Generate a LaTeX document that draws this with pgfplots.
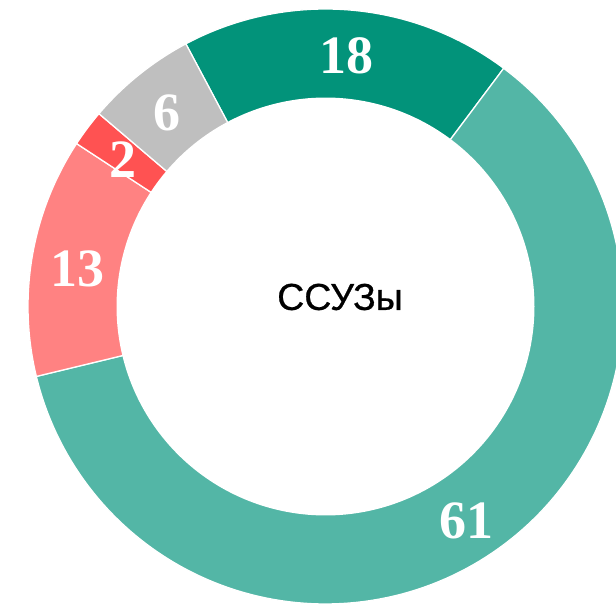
\documentclass[border=0pt]{standalone}
\usepackage{pgfplots}
\pgfplotsset{compat=1.18}
\usepackage{fontspec}
\setmainfont{Liberation Serif}
\newfontfamily\sansf[FakeBold=0.6]{Liberation Sans}
\definecolor{cA}{RGB}{2,147,122}
\definecolor{cB}{RGB}{83,182,166}
\definecolor{cC}{RGB}{255,130,130}
\definecolor{cD}{RGB}{255,82,82}
\definecolor{cE}{RGB}{191,191,191}
\newcommand\lab{\bfseries\fontsize{54}{60}\selectfont}
\def\cx{325.5}
\def\cy{-306.5}
\def\Ro{297.5}
\def\Ri{209}
\def\cum{118}
\newcommand\seg[2]{%
  \pgfmathsetmacro\sa{\cum}%
  \pgfmathsetmacro\sb{\cum-#1*3.6}%
  \edef\temp{\noexpand\addplot[fill=#2, draw=white, line width=1.3pt, domain=\sb:\sa, samples=150] ({\cx+\Ro*cos(x)},{\cy+\Ro*sin(x)}) -- (axis cs:\cx,\cy) -- cycle;}%
  \temp
  \xdef\cum{\sb}%
}
\begin{document}
\begin{tikzpicture}
\useasboundingbox (0,0) rectangle (616pt,603pt);
\begin{axis}[at={(0,0)}, anchor=south west, scale only axis, width=616pt, height=603pt,
  xmin=0, xmax=616, ymin=-603, ymax=0, hide axis]
\seg{18}{cA}
\seg{61}{cB}
\seg{13}{cC}
\seg{2}{cD}
\seg{6}{cE}
\addplot[fill=white, draw=none, domain=0:360, samples=240] ({\cx+\Ri*cos(x)},{\cy+\Ri*sin(x)});
\node[font=\lab, text=white, inner sep=0pt] at (axis cs:346,-56) {18};
\node[font=\lab, text=white, inner sep=0pt] at (axis cs:466,-521) {61};
\node[font=\lab, text=white, inner sep=0pt] at (axis cs:77,-269) {13};
\node[font=\lab, text=white, inner sep=0pt] at (axis cs:123,-160) {2};
\node[font=\lab, text=white, inner sep=0pt] at (axis cs:167,-113) {6};
\node[font=\sansf\fontsize{37.5}{42}\selectfont, inner sep=0pt] at (axis cs:340,-297) {ССУЗы};
\end{axis}
\end{tikzpicture}
\end{document}
